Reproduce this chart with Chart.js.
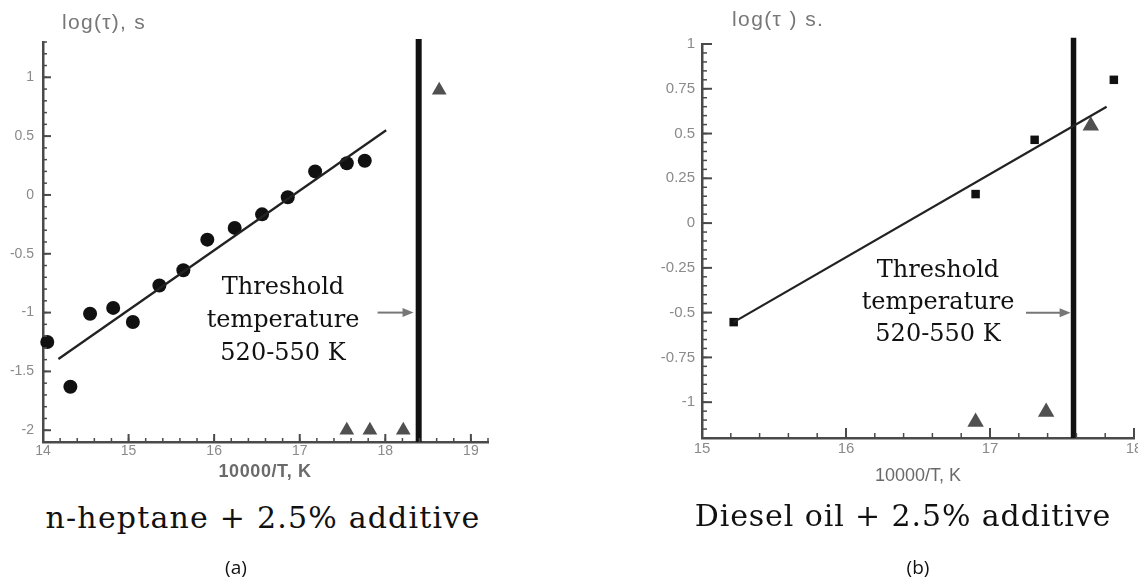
<!DOCTYPE html>
<html><head><meta charset="utf-8">
<script src="https://cdn.jsdelivr.net/npm/chart.js@4/dist/chart.umd.min.js"></script>
<style>
html,body{margin:0;padding:0;width:1138px;height:580px;overflow:hidden;background:#fff;}
.abs{position:absolute;white-space:nowrap;}
.ytitle{font-family:"Liberation Sans",Arial,sans-serif;color:#777;}
.xtitle{font-family:"Liberation Sans",Arial,sans-serif;color:#6a6a6a;font-size:18px;line-height:20px;transform:translateX(-50%);}
.thr{font-family:"DejaVu Serif",serif;color:#111;font-size:24px;text-align:center;transform:translateX(-50%);}
.cap{font-family:"DejaVu Serif",serif;color:#111;font-size:30px;line-height:34px;transform:translateX(-50%);}
.sub{font-family:"Open Sans","Liberation Sans",sans-serif;color:#111;font-size:19px;line-height:22px;transform:translateX(-50%);}
</style></head><body>
<div class="abs" style="left:0;top:0;width:560px;height:500px;"><canvas id="cA" width="560" height="500" style="width:560px;height:500px;"></canvas></div>
<div class="abs" style="left:600px;top:0;width:538px;height:500px;overflow:hidden;"><canvas id="cB" width="560" height="500" style="width:560px;height:500px;"></canvas></div>

<div class="abs ytitle" style="left:62px;top:10px;font-size:21px;letter-spacing:1.3px;">log(τ), s</div>
<div class="abs ytitle" style="left:732px;top:7px;font-size:21px;letter-spacing:1.4px;">log(τ ) s.</div>

<div class="abs thr" style="left:283px;top:270px;line-height:33px;">Threshold<br>temperature<br>520-550 K</div>
<div class="abs thr" style="left:938px;top:253px;line-height:32px;">Threshold<br>temperature<br>520-550 K</div>

<div class="abs xtitle" style="left:265px;top:461px;font-weight:bold;letter-spacing:0.6px;">10000/T, K</div>
<div class="abs xtitle" style="left:918px;top:465px;">10000/T, K</div>

<div class="abs cap" style="left:263px;top:501px;letter-spacing:1.2px;">n-heptane + 2.5% additive</div>
<div class="abs cap" style="left:903px;top:499px;letter-spacing:0.9px;">Diesel oil + 2.5% additive</div>

<div class="abs sub" style="left:236px;top:556px;">(a)</div>
<div class="abs sub" style="left:918px;top:556px;">(b)</div>

<script>
// ---------- Chart (a): n-heptane + 2.5% additive ----------
const hepX = [14.05, 14.32, 14.55, 14.82, 15.05, 15.36, 15.64, 15.92, 16.24, 16.56, 16.86, 17.18, 17.55, 17.76];
const hepY = [-1.25, -1.63, -1.01, -0.96, -1.08, -0.77, -0.64, -0.38, -0.28, -0.165, -0.02, 0.20, 0.27, 0.29];
const hepTriX = [17.55, 17.82, 18.21, 18.63];
const hepTriY = [-2.0, -2.0, -2.0, 0.89];
const hepFitX = [14.18, 18.01];
const hepFitY = [-1.395, 0.55];
const hepThreshX = [18.39, 18.39];
const hepThreshY = [1.326, -2.1];
const hepArrowX = [17.91, 18.33];
const hepArrowY = [-1.0, -1.0];
const hepXTicks = [14, 15, 16, 17, 18, 19];
const hepXLabels = ['14', '15', '16', '17', '18', '19'];
const hepYTicks = [1, 0.5, 0, -0.5, -1, -1.5, -2];
const hepYLabels = ['1', '0.5', '0', '-0.5', '-1', '-1.5', '-2'];

// ---------- Chart (b): Diesel oil + 2.5% additive ----------
const dieX = [15.22, 16.90, 17.31, 17.86];
const dieY = [-0.553, 0.162, 0.465, 0.80];
const dieTriX = [16.90, 17.39, 17.70];
const dieTriY = [-1.11, -1.055, 0.543];
const dieFitX = [15.22, 17.81];
const dieFitY = [-0.553, 0.65];
const dieThreshX = [17.58, 17.58];
const dieThreshY = [1.035, -1.2];
const dieArrowX = [17.25, 17.56];
const dieArrowY = [-0.5, -0.5];
const dieXTicks = [15, 16, 17, 18];
const dieXLabels = ['15', '16', '17', '18'];
const dieYTicks = [1, 0.75, 0.5, 0.25, 0, -0.25, -0.5, -0.75, -1];
const dieYLabels = ['1', '0.75', '0.5', '0.25', '0', '-0.25', '-0.5', '-0.75', '-1'];

const pts = (xs, ys) => xs.map((v, i) => ({x: v, y: ys[i]}));
const AXIS = '#4a4a4a';

function decorPlugin(o) {
  return {
    id: 'decor',
    afterDatasetsDraw(chart) {
      const {ctx, chartArea: a, scales: {x, y}} = chart;
      ctx.save();
      ctx.strokeStyle = AXIS;
      const drawY = (v, len, w) => {
        const py = y.getPixelForValue(v);
        ctx.lineWidth = w; ctx.beginPath(); ctx.moveTo(a.left, py); ctx.lineTo(a.left + len, py); ctx.stroke();
      };
      const drawX = (v, len, w) => {
        const px = x.getPixelForValue(v);
        ctx.lineWidth = w; ctx.beginPath(); ctx.moveTo(px, a.bottom); ctx.lineTo(px, a.bottom - len); ctx.stroke();
      };
      for (let i = 0; ; i++) { const v = o.yMin + i * o.yMinor; if (v > o.yMax + 1e-9) break; drawY(v, o.minorLen, 1.5); }
      for (let i = 0; ; i++) { const v = o.xMin + i * o.xMinor; if (v > o.xMax + 1e-9) break; drawX(v, o.minorLen, 1.5); }
      o.yTicks.forEach(v => drawY(v, o.majorLen, 2));
      o.xTicks.forEach(v => drawX(v, o.majorLen, 2));
      // arrow
      const x1 = x.getPixelForValue(o.arrowX[0]), x2 = x.getPixelForValue(o.arrowX[1]);
      const y1 = y.getPixelForValue(o.arrowY[0]), y2 = y.getPixelForValue(o.arrowY[1]);
      ctx.strokeStyle = '#777'; ctx.fillStyle = '#777'; ctx.lineWidth = 2;
      ctx.beginPath(); ctx.moveTo(x1, y1); ctx.lineTo(x2 - 8, y2); ctx.stroke();
      ctx.beginPath(); ctx.moveTo(x2, y2); ctx.lineTo(x2 - 11, y2 - 4.5); ctx.lineTo(x2 - 11, y2 + 4.5); ctx.closePath(); ctx.fill();
      ctx.restore();
    }
  };
}

function makeChart(id, o) {
  const tickFont = {family: '"Liberation Sans", Arial, sans-serif', size: o.fontSize};
  return new Chart(document.getElementById(id), {
    type: 'scatter',
    data: {
      datasets: [
        {data: pts(o.fitX, o.fitY), showLine: true, borderColor: '#222', borderWidth: 2.3, pointRadius: 0, clip: false},
        {data: pts(o.thX, o.thY), showLine: true, borderColor: '#111', borderWidth: o.thW, borderCapStyle: 'butt', pointRadius: 0, clip: false},
        {data: pts(o.ptX, o.ptY), pointStyle: o.ptStyle, pointRadius: o.ptR, backgroundColor: '#111', borderColor: '#111', borderWidth: 0, clip: false},
        {data: pts(o.triX, o.triY), pointStyle: 'triangle', pointRadius: o.triR, backgroundColor: '#505050', borderColor: '#505050', borderWidth: 0, clip: false}
      ]
    },
    options: {
      responsive: false, animation: false, events: [],
      layout: {padding: {top: o.padTop, right: o.padRight, left: 0, bottom: 0}},
      plugins: {legend: {display: false}, tooltip: {enabled: false}},
      scales: {
        x: {
          type: 'linear', min: o.xMin, max: o.xMax,
          afterBuildTicks: s => { s.ticks = o.xTicks.map(v => ({value: v})); },
          afterFit: s => { s.height = o.xH; },
          grid: {display: false, drawTicks: false, tickLength: 0},
          border: {display: true, color: AXIS, width: 2.5},
          ticks: {autoSkip: false, maxRotation: 0, padding: o.xPad, color: '#8a8a8a', font: tickFont,
            callback: v => { const i = o.xTicks.indexOf(v); return i >= 0 ? o.xLabels[i] : ''; }}
        },
        y: {
          type: 'linear', min: o.yMin, max: o.yMax,
          afterBuildTicks: s => { s.ticks = o.yTicks.map(v => ({value: v})); },
          afterFit: s => { s.width = o.yW; },
          grid: {display: false, drawTicks: false, tickLength: 0},
          border: {display: true, color: AXIS, width: 2.5},
          ticks: {autoSkip: false, padding: o.yPad, color: '#8a8a8a', font: tickFont,
            callback: v => { const i = o.yTicks.indexOf(v); return i >= 0 ? o.yLabels[i] : ''; }}
        }
      }
    },
    plugins: [decorPlugin(o)]
  });
}

makeChart('cA', {
  fitX: hepFitX, fitY: hepFitY, thX: hepThreshX, thY: hepThreshY, thW: 6,
  ptX: hepX, ptY: hepY, ptStyle: 'circle', ptR: 7, triX: hepTriX, triY: hepTriY, triR: 8.5,
  arrowX: hepArrowX, arrowY: hepArrowY,
  xMin: 14, xMax: 19.2, yMin: -2.1, yMax: 1.3, xMinor: 0.2, yMinor: 0.1,
  xTicks: hepXTicks, xLabels: hepXLabels, yTicks: hepYTicks, yLabels: hepYLabels,
  padTop: 42, padRight: 72, xH: 58, yW: 43, xPad: 1, yPad: 9, fontSize: 14, majorLen: 8, minorLen: 4
});

makeChart('cB', {
  fitX: dieFitX, fitY: dieFitY, thX: dieThreshX, thY: dieThreshY, thW: 5.5,
  ptX: dieX, ptY: dieY, ptStyle: 'rect', ptR: 6, triX: dieTriX, triY: dieTriY, triR: 9.5,
  arrowX: dieArrowX, arrowY: dieArrowY,
  xMin: 15, xMax: 18, yMin: -1.2, yMax: 1, xMinor: 0.2, yMinor: 0.05,
  xTicks: dieXTicks, xLabels: dieXLabels, yTicks: dieYTicks, yLabels: dieYLabels,
  padTop: 44, padRight: 26, xH: 62, yW: 102, xPad: 2, yPad: 7, fontSize: 15, majorLen: 10, minorLen: 5
});
</script>
</body></html>
